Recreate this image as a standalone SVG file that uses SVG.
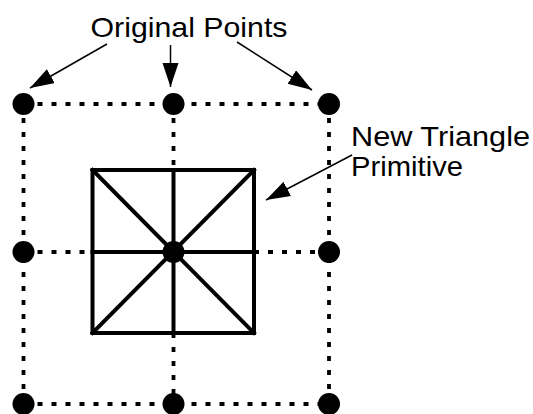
<svg xmlns="http://www.w3.org/2000/svg" width="533" height="414" viewBox="0 0 533 414">
  <style>
    .grid { fill: none; stroke: #000; stroke-width: 3.8; stroke-dasharray: 5 9; }
    .solid { fill: none; stroke: #000; stroke-width: 4; stroke-linecap: square; }
    .pt { fill: #000; }
    .ptr { fill: none; stroke: #000; stroke-width: 1.5; }
    .lbl { font-family: "Liberation Sans", Arial, sans-serif; font-size: 28px; fill: #000; }
  </style>
  <defs>
    <marker id="head" markerUnits="userSpaceOnUse" markerWidth="26" markerHeight="18" refX="24" refY="8" orient="auto">
      <path d="M0,0 L24,8 L0,16 Z" fill="#000"/>
    </marker>
  </defs>
  <rect width="533" height="414" fill="#fff"/>

  <!-- dotted grid joining the original points -->
  <g id="connectors">
    <line class="grid" x1="23.5" y1="104" x2="329" y2="104"/>
    <line class="grid" x1="23.5" y1="252" x2="92.5" y2="252"/>
    <line class="grid" x1="254" y1="252" x2="329" y2="252"/>
    <line class="grid" x1="23.5" y1="404" x2="329" y2="404"/>
    <line class="grid" x1="23.5" y1="104" x2="23.5" y2="404"/>
    <line class="grid" x1="173.5" y1="104" x2="173.5" y2="170"/>
    <line class="grid" x1="173.5" y1="333" x2="173.5" y2="404"/>
    <line class="grid" x1="329" y1="104" x2="329" y2="404"/>
    <!-- label pointers -->
    <line class="ptr" x1="107" y1="44" x2="30" y2="88" marker-end="url(#head)"/>
    <line class="ptr" x1="170.5" y1="45" x2="170.5" y2="87" marker-end="url(#head)"/>
    <line class="ptr" x1="237" y1="42" x2="312" y2="90" marker-end="url(#head)"/>
    <line class="ptr" x1="352" y1="155" x2="266" y2="200" marker-end="url(#head)"/>
  </g>

  <!-- new triangle primitive: square fan around the centre -->
  <g id="primitive">
    <rect class="solid" x="92.5" y="170" width="161.5" height="163"/>
    <line class="solid" x1="173.5" y1="170" x2="173.5" y2="333"/>
    <line class="solid" x1="92.5" y1="252" x2="254" y2="252"/>
    <line class="solid" x1="92.5" y1="170" x2="254" y2="333"/>
    <line class="solid" x1="254" y1="170" x2="92.5" y2="333"/>
  </g>

  <!-- original points -->
  <g id="points">
    <circle class="pt" cx="23.5" cy="104" r="11"/>
    <circle class="pt" cx="173.5" cy="104" r="11"/>
    <circle class="pt" cx="329" cy="104" r="11"/>
    <circle class="pt" cx="23.5" cy="252" r="11"/>
    <circle class="pt" cx="173.5" cy="252" r="11"/>
    <circle class="pt" cx="329" cy="252" r="11"/>
    <circle class="pt" cx="23.5" cy="404" r="11"/>
    <circle class="pt" cx="173.5" cy="404" r="11"/>
    <circle class="pt" cx="329" cy="404" r="11"/>
  </g>

  <g id="label-original">
    <text class="lbl" x="90.5" y="37" textLength="197" lengthAdjust="spacingAndGlyphs">Original Points</text>
  </g>
  <g id="label-primitive">
    <text class="lbl" x="351" y="146" textLength="179" lengthAdjust="spacingAndGlyphs">New Triangle</text>
    <text class="lbl" x="351" y="176" textLength="112" lengthAdjust="spacingAndGlyphs">Primitive</text>
  </g>
</svg>
